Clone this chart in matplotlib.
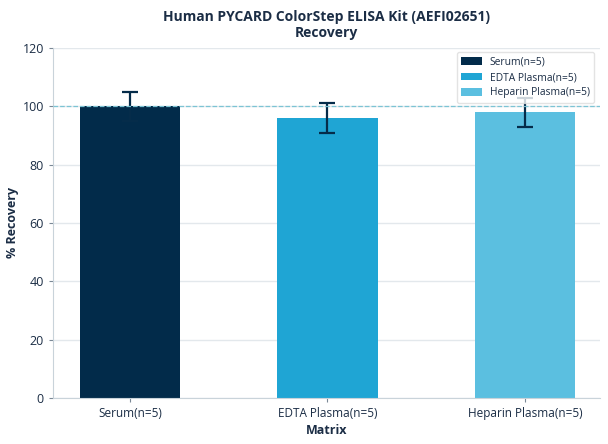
import numpy as np
import matplotlib.pyplot as plt

# Values
categories = ["Serum(n=5)", "EDTA Plasma(n=5)", "Heparin Plasma(n=5)"]
recovery = [100, 96, 98]
errors = [5, 5, 5]
colors = ["#022b4a", "#1fa5d4", "#5bbfe0"]
yticks = [0, 20, 40, 60, 80, 100, 120]

TEXT = "#1b2d45"
GRID = "#e3e8ec"
SPINE = "#c9d3da"

plt.rcParams["font.family"] = ["Open Sans", "DejaVu Sans"]

fig = plt.figure(figsize=(6.08, 4.44), dpi=100)
ax = fig.add_axes([0.087, 0.104, 0.90, 0.788])

x = np.arange(len(categories))
for i in range(len(categories)):
    ax.bar(x[i], recovery[i], width=0.51, color=colors[i], label=categories[i], zorder=2)
    ax.errorbar(x[i], recovery[i], yerr=errors[i], fmt="none", ecolor="#052c4a",
                elinewidth=1.6, capsize=5.6, capthick=1.6, zorder=3)

ax.axhline(100, color="#7cc4d4", linestyle="--", linewidth=0.9, zorder=4)

ax.set_xlim(-0.39, 2.38)
ax.set_ylim(0, 120)
ax.set_yticks(yticks)
ax.set_xticks(x)
ax.set_xticklabels(categories)
ax.yaxis.grid(True, color=GRID, linewidth=1.0, zorder=0)
ax.set_axisbelow(True)

for s in ["top", "right"]:
    ax.spines[s].set_visible(False)
for s in ["left", "bottom"]:
    ax.spines[s].set_color(SPINE)
ax.tick_params(colors=TEXT, length=3)
ax.tick_params(axis="both", color="#7a8896")
ax.tick_params(axis="x", labelsize=8.5)
ax.tick_params(axis="y", labelsize=9)

ax.set_xlabel("Matrix", fontsize=9, fontweight="bold", color=TEXT, labelpad=3)
ax.set_ylabel("% Recovery", fontsize=9, fontweight="bold", color=TEXT)
ax.yaxis.set_label_coords(-0.062, 0.5)
ax.set_title("Human PYCARD ColorStep ELISA Kit (AEFI02651)\nRecovery",
             fontsize=10, fontweight="bold", color=TEXT, pad=8, linespacing=1.15)

leg = ax.legend(loc="upper right", fontsize=7.4, frameon=True, borderpad=0.45,
                handlelength=2.0, handleheight=0.8, labelspacing=0.42,
                handletextpad=0.75, borderaxespad=0.4,
                bbox_to_anchor=(0.997, 1.0))
leg.get_frame().set_edgecolor("#dddddd")
leg.set_zorder(5)
for t in leg.get_texts():
    t.set_color(TEXT)

fig.savefig("out.png", dpi=100)
